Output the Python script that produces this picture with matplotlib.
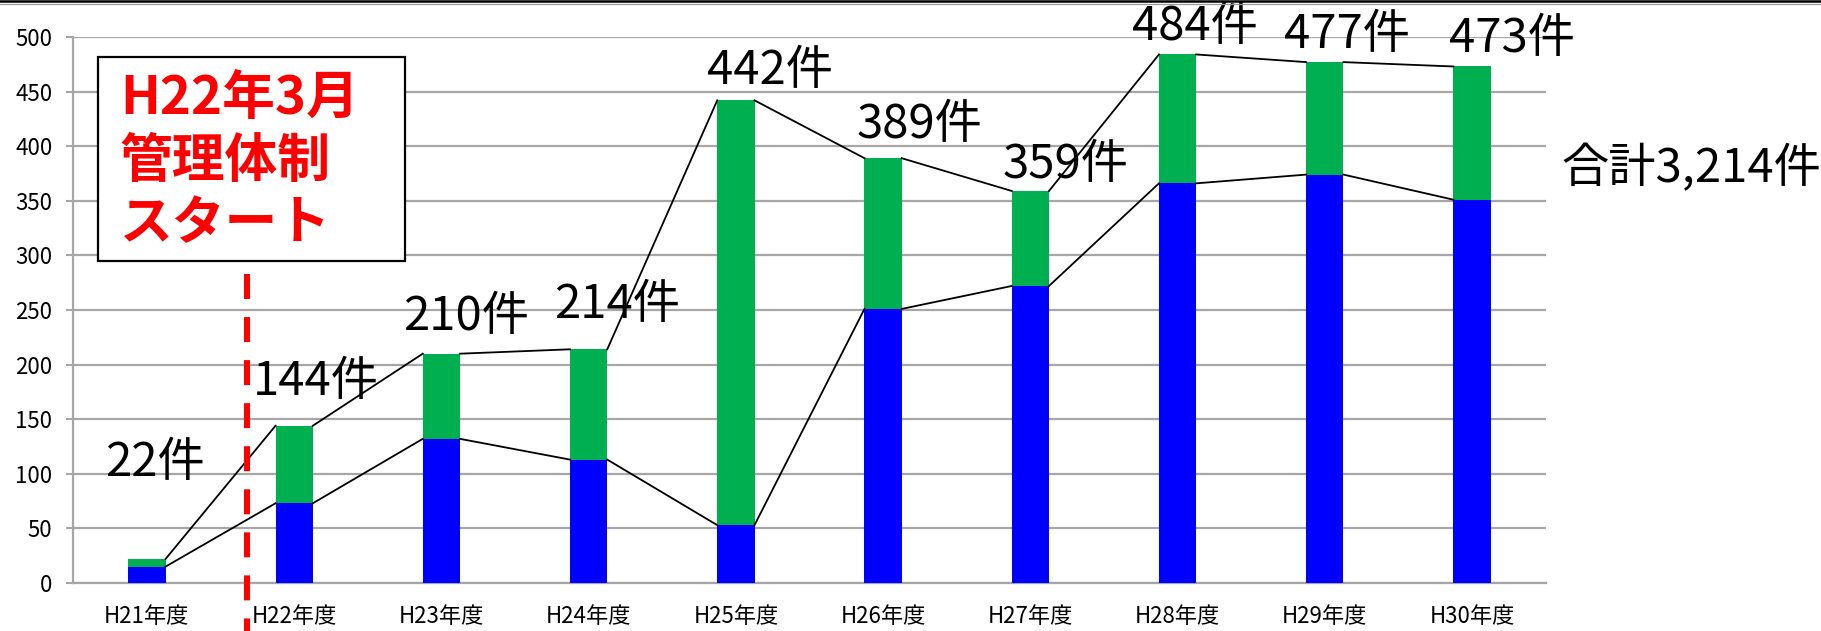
import matplotlib
matplotlib.use("Agg")
import matplotlib.pyplot as plt
from matplotlib.patches import Rectangle
from matplotlib.lines import Line2D

plt.rcParams['font.family'] = ['Noto Sans CJK JP', 'DejaVu Sans']

# ---- data ----
categories = ["H21年度", "H22年度", "H23年度", "H24年度", "H25年度",
              "H26年度", "H27年度", "H28年度", "H29年度", "H30年度"]
blue_vals = [15, 73, 132, 113, 53, 251, 272, 366, 374, 351]
totals = [22, 144, 210, 214, 442, 389, 359, 484, 477, 473]
green_vals = [t - b for t, b in zip(totals, blue_vals)]
grand_total_label = "合計3,214件"
note_lines = ["H22年3月", "管理体制", "スタート"]
yticks = list(range(0, 501, 50))

# ---- style / label placement ----
label_dx = [0.055, 0.148, 0.167, 0.193, 0.232, 0.25, 0.242, 0.118, 0.15, 0.271]
label_dy = [88, 40, 34, 41, 27, 31, 24, 25.5, 25, 25]
BLUE = "#0000FF"
GREEN = "#00B050"
GRID = "#A6A6A6"
W, H = 1821, 631

fig = plt.figure(figsize=(W / 100, H / 100), dpi=100)
ax = fig.add_axes([73.3 / W, 1 - 583 / H, (1545.7 - 73.3) / W, (583 - 37) / H])

x = list(range(len(categories)))
bw = 0.253
ax.bar(x, blue_vals, width=bw, color=BLUE, zorder=3)
ax.bar(x, green_vals, width=bw, bottom=blue_vals, color=GREEN, zorder=3)

# connector lines between bars (series lines)
for i in range(len(x) - 1):
    ax.plot([x[i] + bw / 2, x[i + 1] - bw / 2], [totals[i], totals[i + 1]],
            color="black", lw=1.3, zorder=4)
    ax.plot([x[i] + bw / 2, x[i + 1] - bw / 2], [blue_vals[i], blue_vals[i + 1]],
            color="black", lw=1.3, zorder=4)

ax.set_xlim(-0.5, len(x) - 0.5)
ax.set_ylim(0, 500)
ax.set_yticks(yticks)
ax.set_yticklabels([str(v) for v in yticks], fontsize=16)
ax.set_xticks(x)
ax.set_xticklabels(categories, fontsize=16)
ax.tick_params(axis='x', length=0, pad=16)
ax.tick_params(axis='y', length=5, width=1.5, color=GRID, pad=10)
ax.yaxis.grid(True, color=GRID, lw=1.6, zorder=0)
ax.set_axisbelow(True)
for s in ["top", "right"]:
    ax.spines[s].set_visible(False)
for s in ["left", "bottom"]:
    ax.spines[s].set_color(GRID)
    ax.spines[s].set_linewidth(1.6)

# value labels
for i, t in enumerate(totals):
    ax.text(x[i] + label_dx[i], t + label_dy[i], f"{t}件", fontsize=34,
            ha="center", va="center", clip_on=False, zorder=5)

ax.text(10.49, 379, grand_total_label, fontsize=34, ha="center", va="center",
        clip_on=False)

# red dashed start line
lw = 4.3
ax.plot([0.678, 0.678], [283, -50], color="#FF0000", lw=lw, clip_on=False,
        dashes=(18 / lw, 13 / lw), zorder=6)

# annotation box
fig.patches.append(Rectangle((97.7 / W, 1 - 261 / H), (405 - 97.7) / W, (261 - 56.5) / H,
                             transform=fig.transFigure, facecolor="white",
                             edgecolor="black", lw=1.6, zorder=2))
for j, (line, yc) in enumerate(zip(note_lines, [98.8, 161, 224])):
    fig.text(120 / W, 1 - yc / H, line, fontsize=38, fontweight="bold",
             color="#FF0000", ha="left", va="center", zorder=3)

# top border lines
fig.add_artist(Line2D([0, 1], [1 - 1.2 / H, 1 - 1.2 / H], color="black", lw=1.8))
fig.add_artist(Line2D([0, 1], [1 - 4 / H, 1 - 4 / H], color="#9A9A9A", lw=0.9))

fig.savefig("out.png", dpi=100)
